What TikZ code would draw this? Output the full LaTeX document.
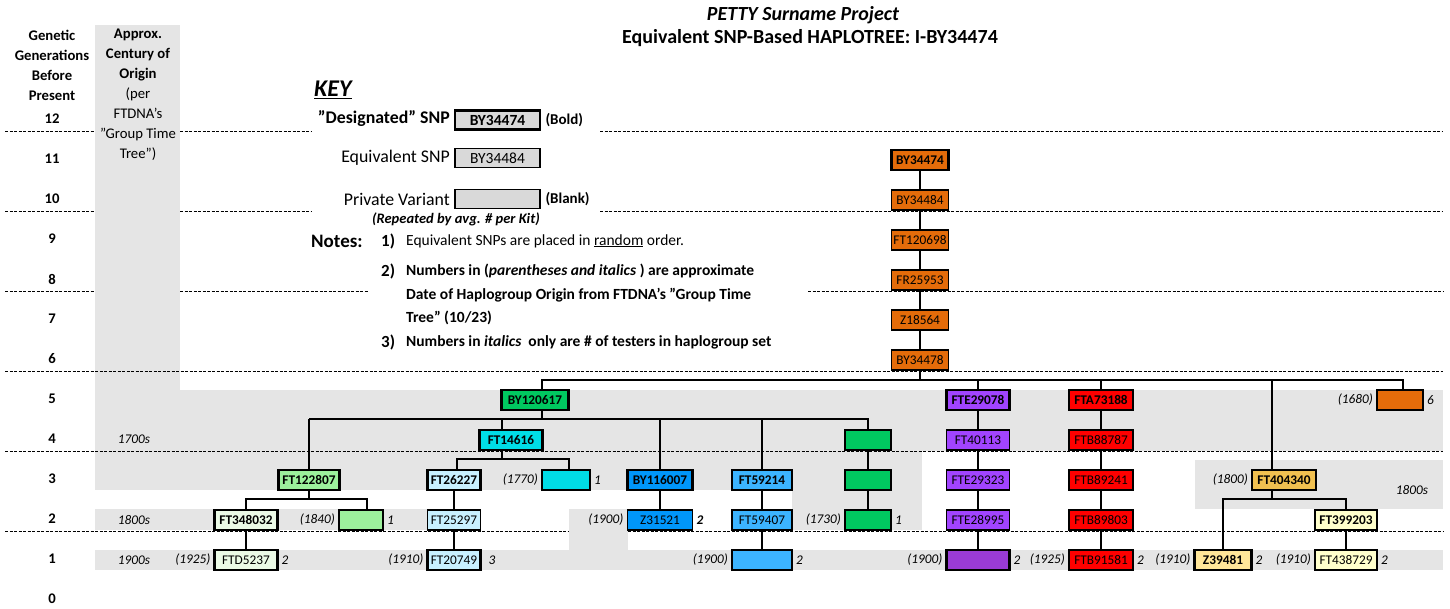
\documentclass[tikz,border=0pt]{standalone}
\usepackage{fontspec}
\setmainfont{Carlito}
\usetikzlibrary{positioning,calc}

\newcommand{\boxfont}{\fontsize{13.3}{15}\selectfont}
\newcommand{\txtfont}{\fontsize{14.7}{20}\selectfont}
\newcommand{\keyfont}{\fontsize{17.8}{20}\selectfont}
\newcommand{\notefont}{\fontsize{15.5}{23.5}\selectfont}

\definecolor{snporange}{HTML}{E46C0A}
\definecolor{snpgreen}{HTML}{00C860}
\definecolor{snplime}{HTML}{9CF09C}
\definecolor{snppale}{HTML}{EBFAE6}
\definecolor{snpcyan}{HTML}{00DDE6}
\definecolor{snpice}{HTML}{C8F0FF}
\definecolor{snpblue}{HTML}{0096FA}
\definecolor{snpsky}{HTML}{3CB4FF}
\definecolor{snpviolet}{HTML}{A144FF}
\definecolor{snpplum}{HTML}{9A3BD6}
\definecolor{snpred}{HTML}{FF0000}
\definecolor{snpgold}{HTML}{F0C050}
\definecolor{snpsand}{HTML}{FFE699}
\definecolor{snpcream}{HTML}{FFFFCC}
\definecolor{keygray}{HTML}{D9D9D9}

\tikzset{
snp/.style={draw,line width=1.6pt,fill=#1,minimum width=60pt,minimum height=20pt,
inner sep=0pt,outer sep=0pt,font=\boxfont},
dsnp/.style={snp=#1,line width=2.2pt,font=\boxfont\bfseries},
conn/.style={line width=1.3pt},
thickconn/.style={line width=2.4pt},
rowline/.style={line width=1pt,dash pattern=on 3pt off 1.5pt},
band/.style={fill=gray!20,draw=none},
date/.style={font=\boxfont\itshape,inner sep=1pt},
count/.style={font=\boxfont\itshape,inner sep=1pt},
gen/.style={font=\txtfont\bfseries},
txt/.style={font=\txtfont,inner sep=0pt},
keybox/.style={snp=keygray,minimum width=85pt,minimum height=19pt,font=\fontsize{15.5}{17}\selectfont},
note/.style={font=\notefont\bfseries,inner sep=0pt,anchor=west}
}

\begin{document}
\begin{tikzpicture}[x=1pt, y=-1pt, node distance=20pt]
\useasboundingbox (0,0) rectangle (1450,608);

% shaded bands
\fill[band] (95,25) rectangle (180,390);
\fill[band] (95,390) rectangle (1443,451);
\fill[band] (95,451) rectangle (922,490);
\fill[band] (95,509) rectangle (481,530);
\fill[band] (569,509) rectangle (628,550);
\fill[band] (792,490) rectangle (922,530);
\fill[band] (1195,460) rectangle (1443,509);
\fill[band] (95,550) rectangle (1443,570);

% generation separators
\foreach \ya/\xa/\xb in {131/5/95, 131/180/312, 131/600/1443,
  211/5/95, 211/180/312, 211/600/1443,
  291/5/95, 291/180/368, 291/808/1443,
  371/5/1443, 451/5/1443, 531/5/569, 531/628/1443}
  \draw[rowline] (\xa,\ya) -- (\xb,\ya);

% headings
\node[font=\fontsize{20}{22}\selectfont\bfseries\itshape] (title1) at (803,15) {PETTY Surname Project};
\node[font=\fontsize{20}{22}\selectfont\bfseries] (title2) at (810,38) {Equivalent SNP-Based HAPLOTREE: I-BY34474};
\node[gen,align=center,inner sep=0pt] (hdrgen) at (52,65) {Genetic\\Generations\\Before\\Present};
\node[txt,align=center] (hdrage) at (138,95)
  {\textbf{Approx.}\\\textbf{Century of}\\\textbf{Origin}\\(per\\FTDNA's\\"Group Time\\Tree")};
\foreach \g in {0,...,12}
  \node[gen] (g\g) at (52,{599-40*\g}) {\g};
\node[date] (cent4) at (134,439) {1700s};
\node[date] (cent2) at (134,520) {1800s};
\node[date] (cent1) at (134,560) {1900s};
\node[date] (cent2r) at (1412,490) {1800s};

% key
\node[font=\fontsize{24}{26}\selectfont\bfseries\itshape,anchor=west,inner sep=0pt] (key) at (314,90) {\underline{KEY}};
\node[font=\keyfont\bfseries,anchor=east,inner sep=0pt] (kdl) at (450,119) {"Designated" SNP};
\node[font=\keyfont,anchor=east,inner sep=0pt] (kel) at (450,158) {Equivalent SNP};
\node[font=\keyfont,anchor=east,inner sep=0pt] (kpl) at (450,199) {Private Variant};
\node[keybox,line width=2.2pt,font=\fontsize{15.5}{17}\selectfont\bfseries] (kd) at (497.5,120) {BY34474};
\node[keybox] (ke) at (497.5,158) {BY34484};
\node[keybox] (kp) at (497.5,199) {};
\node[font=\fontsize{15}{17}\selectfont\bfseries,right=2pt of kd] (kdn) {(Bold)};
\node[font=\fontsize{15}{17}\selectfont\bfseries,right=2pt of kp] (kpn) {(Blank)};
\node[font=\fontsize{14.5}{16}\selectfont\bfseries\itshape] (kpr) at (456,219) {(Repeated by avg. \# per Kit)};

% notes
\node[font=\fontsize{19}{21}\selectfont\bfseries,anchor=west,inner sep=0pt] (notes) at (311,241) {Notes:};
\node[note,font=\fontsize{17}{19}\selectfont\bfseries] (n1) at (381,241) {1)};
\node[note,font=\notefont] (n1t) at (406,241) {Equivalent SNPs are placed in \underline{random} order.};
\node[note,font=\fontsize{17}{19}\selectfont\bfseries] (n2) at (381,271) {2)};
\node[note,align=left] (n2t) at (406,294.5)
  {Numbers in (\textit{parentheses and italics} ) are approximate\\
   Date of Haplogroup Origin from FTDNA's "Group Time\\
   Tree" (10/23)};
\node[note,font=\fontsize{17}{19}\selectfont\bfseries] (n3) at (381,342) {3)};
\node[note] (n3t) at (406,342)
  {Numbers in \textit{italics}\ \ only are \# of testers in haplogroup set};

% trunk
\node[dsnp=snporange,minimum width=57pt] (o11) at (920,160) {BY34474};
\node[snp=snporange,minimum width=57pt,below=of o11] (o10) {BY34484};
\node[snp=snporange,minimum width=57pt,below=of o10] (o9) {FT120698};
\node[snp=snporange,minimum width=57pt,below=of o9] (o8) {FR25953};
\node[snp=snporange,minimum width=57pt,below=of o8] (o7) {Z18564};
\node[snp=snporange,minimum width=57pt,below=of o7] (o6) {BY34478};

% BY120617 branch
\node[dsnp=snpgreen,minimum width=67pt] (c5) at (535,400) {BY120617};
\node[dsnp=snplime,minimum width=61pt] (c3a) at (309,480) {FT122807};
\node[dsnp=snppale,minimum width=63pt] (c2a) at (246,520) {FT348032};
\node[snp=snppale,minimum width=63pt,line width=2.4pt,below=of c2a] (c1a) {FTD5237};
\node[snp=snplime,minimum width=44pt] (c2b) at (361,520) {};
\node[dsnp=snpcyan,minimum width=63pt] (c4) at (511,440) {FT14616};
\node[dsnp=snpice,minimum width=53pt] (c3b) at (454,480) {FT26227};
\node[snp=snpice,minimum width=53pt,below=of c3b] (c2c) {FT25297};
\node[snp=snpice,minimum width=53pt,line width=2.2pt,below=of c2c] (c1c) {FT20749};
\node[snp=snpcyan,minimum width=48pt,line width=2.2pt] (c3c) at (566,480) {};
\node[dsnp=snpblue,minimum width=65pt] (c3d) at (660,480) {BY116007};
\node[snp=snpblue,minimum width=65pt,below=of c3d] (c2d) {Z31521};
\node[dsnp=snpsky,minimum width=60pt] (c3e) at (762,480) {FT59214};
\node[snp=snpsky,minimum width=60pt,below=of c3e] (c2e) {FT59407};
\node[snp=snpsky,minimum width=60pt,line width=2.2pt,below=of c2e] (c1e) {};
\node[snp=snpgreen,minimum width=46pt,line width=2.2pt] (c4f) at (868,440) {};
\node[snp=snpgreen,minimum width=46pt,line width=2.2pt,below=of c4f] (c3f) {};
\node[snp=snpgreen,minimum width=46pt,line width=2.2pt,below=of c3f] (c2f) {};

% FTE29078 branch
\node[dsnp=snpviolet,minimum width=63pt] (e5) at (978,400) {FTE29078};
\node[snp=snpviolet,minimum width=63pt,below=of e5] (e4) {FT40113};
\node[snp=snpviolet,minimum width=63pt,below=of e4] (e3) {FTE29323};
\node[snp=snpviolet,minimum width=63pt,below=of e3] (e2) {FTE28995};
\node[snp=snpplum,minimum width=63pt,line width=2.2pt,below=of e2] (e1) {};

% FTA73188 branch
\node[dsnp=snpred,minimum width=64pt] (r5) at (1101,400) {FTA73188};
\node[snp=snpred,minimum width=64pt,line width=2.2pt,below=of r5] (r4) {FTB88787};
\node[snp=snpred,minimum width=64pt,line width=2.2pt,below=of r4] (r3) {FTB89241};
\node[snp=snpred,minimum width=64pt,line width=2.2pt,below=of r3] (r2) {FTB89803};
\node[snp=snpred,minimum width=64pt,line width=2.2pt,below=of r2] (r1) {FTB91581};

% FT404340 branch
\node[dsnp=snpgold,minimum width=64pt] (g3) at (1284,480) {FT404340};
\node[dsnp=snpsand,minimum width=57pt] (g1) at (1223,560) {Z39481};
\node[dsnp=snpcream,minimum width=62pt,line width=1.6pt] (g2b) at (1346,520) {FT399203};
\node[snp=snpcream,minimum width=62pt,line width=2.2pt,below=of g2b] (g1b) {FT438729};

% private variant under the trunk
\node[snp=snporange,minimum width=46pt,line width=2.2pt] (p5) at (1400,400) {};

% dates and tester counts
\node[date,left=3pt of c2b] (d2b) {(1840)};  \node[count,right=3pt of c2b] (k2b) {1};
\node[date,left=3pt of c1a] (d1a) {(1925)};  \node[count,right=3pt of c1a] (k1a) {2};
\node[date,left=3pt of c3c] (d3c) {(1770)};  \node[count,right=3pt of c3c] (k3c) {1};
\node[date,left=3pt of c1c] (d1c) {(1910)};  \node[count,right=7pt of c1c] (k1c) {3};
\node[date,left=3pt of c2d] (d2d) {(1900)};  \node[count,right=3pt of c2d] (k2d) {\bfseries 2};
\node[date,left=3pt of c1e] (d1e) {(1900)};  \node[count,right=3pt of c1e] (k1e) {2};
\node[date,left=3pt of c2f] (d2f) {(1730)};  \node[count,right=3pt of c2f] (k2f) {1};
\node[date,left=3pt of e1] (d1) {(1900)};    \node[count,right=3pt of e1] (k1) {2};
\node[date,left=3pt of r1] (dr1) {(1925)};   \node[count,right=3pt of r1] (kr1) {2};
\node[date,left=3pt of g3] (dg3) {(1800)};
\node[date,left=3pt of g1] (dg1) {(1910)};   \node[count,right=3pt of g1] (kg1) {2};
\node[date,left=3pt of g1b] (dg1b) {(1910)}; \node[count,right=3pt of g1b] (kg1b) {2};
\node[date,left=3pt of p5] (dp5) {(1680)};   \node[count,right=3pt of p5] (kp5) {6};

% trunk links
\foreach \a/\b in {o11/o10,o10/o9,o9/o8,o8/o7,o7/o6}
  \draw[conn,line width=1.1pt] (\a) -- (\b);
\draw[conn] (o6.south) -- ++(0,10) coordinate (t6);
\draw[conn] ([xshift=7pt]c5.north) |- (t6) -| ([xshift=3pt]p5.north);
\draw[conn] (e5) -- (e5 |- t6);
\draw[conn] (r5) -- (r5 |- t6);
\coordinate (g3top) at ([xshift=-12pt]g3.north);
\draw[thickconn] (g3top) -- (g3top |- t6);

% BY120617 links
\draw[thickconn] ([xshift=7pt]c5.south) -- ++(0,9) coordinate (t5);
\draw[thickconn] (c3a) -- (c3a |- t5);
\draw[conn] (c3a |- t5) -| (c4f);
\coordinate (c4top) at ([xshift=-9pt]c4.north);
\draw[conn] (c4top) -- (c4top |- t5);
\draw[conn] (c3d) -- (c3d |- t5);
\draw[conn] (c3e) -- (c3e |- t5);

\draw[conn] (c3a.south) -- ++(0,9) coordinate (t3a);
\draw[conn] (c2a) |- (t3a) -| ([xshift=6pt]c2b.north);
\draw[thickconn] (c2a) -- (c1a);

\draw[thickconn] ([xshift=-9pt]c4.south) -- ++(0,9) coordinate (t4);
\draw[thickconn] ([xshift=3pt]c3b.north) |- (t4) -| ([xshift=3pt]c3c.north);
\draw[conn] (c3b) -- (c2c);
\draw[conn] (c2c) -- (c1c);
\draw[conn] (c3d) -- (c2d);
\draw[conn] (c3e) -- (c2e);
\draw[conn] (c2e) -- (c1e);
\draw[conn] (c4f) -- (c3f);
\draw[conn] (c3f) -- (c2f);

% FTE29078 and FTA73188 links
\foreach \a/\b in {e5/e4,e4/e3,e3/e2,e2/e1,r5/r4,r4/r3,r3/r2,r2/r1}
  \draw[conn] (\a) -- (\b);

% FT404340 links
\draw[conn] ([xshift=-12pt]g3.south) -- ++(0,9) coordinate (t3g);
\draw[thickconn] (g1) |- (t3g);
\draw[conn] (t3g) -| (g2b);
\draw[conn] (g2b) -- (g1b);

\end{tikzpicture}
\end{document}
